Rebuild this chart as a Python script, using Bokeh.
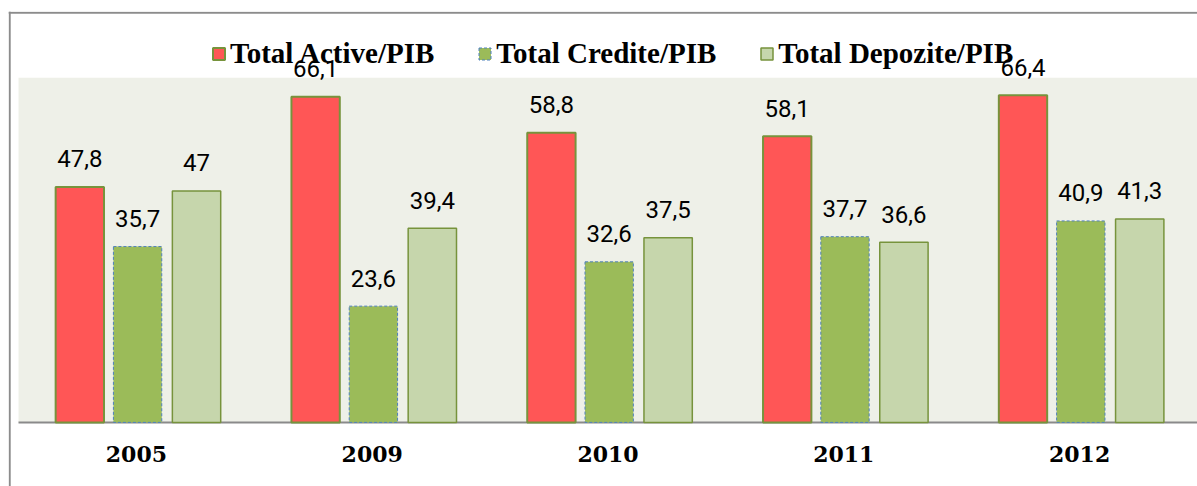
from bokeh.plotting import figure
from bokeh.models import ColumnDataSource, Range1d, FixedTicker, Legend, LegendItem, Span
from bokeh.core.properties import value
from bokeh.embed import file_html
from bokeh.resources import INLINE

years = ["2005", "2009", "2010", "2011", "2012"]
active = [47.8, 66.1, 58.8, 58.1, 66.4]
credite = [35.7, 23.6, 32.6, 37.7, 40.9]
depozite = [47, 39.4, 37.5, 36.6, 41.3]
series_names = ["Total Active/PIB", "Total Credite/PIB", "Total Depozite/PIB"]


def fmt(v):
    return f"{v:g}".replace(".", ",")


idx = list(range(len(years)))
offsets = [-0.24, 0.005, 0.255]
bar_w = 0.205
x_start, x_end = -0.54244, 4.5
y_start, y_end = -13.02, 83.43

p = figure(width=1197, height=486, output_backend="svg", toolbar_location=None,
           x_range=Range1d(x_start, x_end), y_range=Range1d(y_start, y_end),
           y_axis_location=None, min_border=0,
           min_border_left=8, min_border_top=11, min_border_right=0, min_border_bottom=0)
p.background_fill_color = "white"
p.border_fill_color = "white"
p.outline_line_color = None
p.xgrid.visible = False
p.ygrid.visible = False

# outer chart border (left and top edges visible in the crop), inset one pixel
px_x = (x_end - x_start) / 1189.0
px_y = (y_end - y_start) / 475.0
p.add_layout(Span(location=x_start + 1.2 * px_x, dimension="height",
                  line_color="#8C8C8C", line_width=2))
p.add_layout(Span(location=y_end - 1.2 * px_y, dimension="width",
                  line_color="#8C8C8C", line_width=2))

# plot-area background and baseline
p.quad(left=[-0.5], right=[x_end], bottom=[0], top=[70],
       fill_color="#EEF0E8", line_color=None)
p.segment(x0=[-0.5], y0=[0], x1=[x_end], y1=[0], line_color="#8A8A8A", line_width=2)

styles = [
    dict(fill_color="#FF5656", line_color="#77933C", line_width=2, line_dash="solid"),
    dict(fill_color="#9BBB59", line_color="#4F81BD", line_width=1, line_dash="3 2"),
    dict(fill_color="#C6D6AC", line_color="#77933C", line_width=1.5, line_dash="solid"),
]

items = []
for vals, off, st, name in zip([active, credite, depozite], offsets, styles, series_names):
    src = ColumnDataSource(dict(x=[i + off for i in idx], top=vals,
                                lbl=[fmt(v) for v in vals]))
    r = p.vbar(x="x", top="top", bottom=0, width=bar_w, source=src, **st)
    p.text(x="x", y="top", text="lbl", source=src, text_font=value("Roboto"),
           text_font_size="24px", text_align="center", text_baseline="alphabetic",
           y_offset=-28, text_color="black")
    items.append(LegendItem(label=name, renderers=[r]))

legend = Legend(items=items, orientation="horizontal", location=(203, 416),
                glyph_width=15, glyph_height=15, label_standoff=4, spacing=43,
                padding=0, margin=0, background_fill_alpha=0, border_line_color=None,
                label_text_font="Liberation Serif", label_text_font_style="bold",
                label_text_font_size="29px", label_text_color="black")
p.add_layout(legend, "center")

ax = p.xaxis[0]
ax.fixed_location = 0
ax.ticker = FixedTicker(ticks=idx)
ax.major_label_overrides = {i: y for i, y in zip(idx, years)}
ax.axis_line_color = None
ax.major_tick_line_color = None
ax.minor_tick_line_color = None
ax.major_tick_in = 0
ax.major_tick_out = 0
ax.major_label_standoff = 24
ax.major_label_text_font = "DejaVu Serif"
ax.major_label_text_font_style = "bold"
ax.major_label_text_font_size = "22px"
ax.major_label_text_color = "black"

open("out.html", "w").write(file_html(p, INLINE))
